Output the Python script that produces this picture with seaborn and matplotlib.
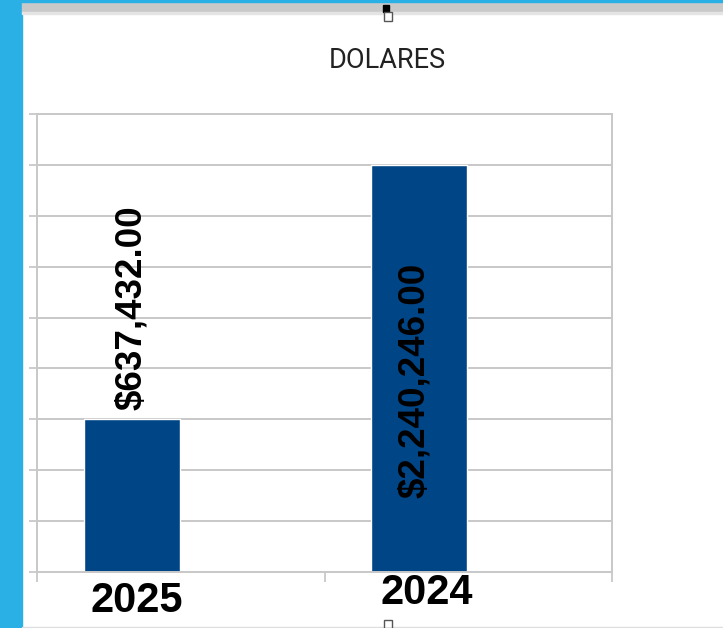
import pandas as pd
import matplotlib
matplotlib.use('Agg')
import matplotlib.pyplot as plt
from matplotlib.patches import Rectangle
import seaborn as sns

# Data (bar heights, labels as printed)
years = ['2025', '2024']
bar_heights = [3, 8]
value_labels = ['$637,432.00', '$2,240,246.00']
chart_title = 'DOLARES'

df = pd.DataFrame({'year': years, 'height': bar_heights})

sns.set_style('white')
plt.rcParams['font.family'] = ['Liberation Sans', 'DejaVu Sans']

W, H = 723, 628
fig = plt.figure(figsize=(W / 100, H / 100), dpi=100)
ax = fig.add_axes([37 / W, 56 / H, 575 / W, 458 / H])

bar_blue = '#004586'
grid_grey = '#c8c8c8'

sns.barplot(data=df, x='year', y='height', color=bar_blue, saturation=1,
            width=0.334, ax=ax, zorder=2)

ax.set_xlim(-0.33, 1.67)
ax.set_ylim(0, 9)
ax.set_xlabel('')
ax.set_ylabel('')

# grid + axes styling
ax.set_yticks(range(10))
ax.set_yticklabels([])
ax.yaxis.grid(True, color=grid_grey, linewidth=1.4)
ax.set_axisbelow(True)
for sp in ax.spines.values():
    sp.set_visible(True)
    sp.set_color(grid_grey)
    sp.set_linewidth(1.4)
ax.tick_params(axis='y', left=True, length=5.8, width=1.3, color=grid_grey)

ax.set_xticks([0, 1])
ax.set_xticklabels([])
ax.tick_params(axis='x', which='major', length=0)
ax.set_xticks([-0.33, 0.67, 1.67], minor=True)
ax.tick_params(axis='x', which='minor', bottom=True, length=7.2, width=1.3,
               color=grid_grey)

# year labels under the bars
year_offsets = [(3.6, -20.9), (5.0, -15.1)]
for i, (yr, off) in enumerate(zip(years, year_offsets)):
    ax.annotate(yr, xy=(i, 0), xycoords=('data', 'axes fraction'),
                xytext=off, textcoords='offset points',
                ha='center', va='center', fontsize=30, fontweight='bold',
                color='black', annotation_clip=False)

# value labels (rotated)
ax.annotate(value_labels[0], xy=(0, bar_heights[0]), xytext=(0, 7),
            textcoords='offset points', rotation=90, ha='center', va='bottom',
            fontsize=26.5, fontweight='bold', color='black')
ax.annotate(value_labels[1], xy=(1, bar_heights[1] * 0.47), xytext=(-3.6, 0),
            textcoords='offset points', rotation=90, ha='center', va='center',
            fontsize=26.5, fontweight='bold', color='black')

# title
fig.text(387.5 / W, 1 - 60 / H, chart_title, family=['Roboto', 'DejaVu Sans'],
         fontsize=19.5, color='#222222', ha='center', va='center')

# screenshot frame bits
cyan = '#2ab0e4'
fig.add_artist(Rectangle((0, 0), 22 / W, 1, transform=fig.transFigure,
                         color=cyan, zorder=0))
fig.add_artist(Rectangle((22 / W, 1 - 13 / H), 1, 11 / H,
                         transform=fig.transFigure, color='#c9c9c9', zorder=0))
fig.add_artist(Rectangle((22 / W, 1 - 14 / H), 1, 2 / H,
                         transform=fig.transFigure, color='#e4e4e4', zorder=0))
fig.add_artist(Rectangle((0, 1 - 2 / H), 1, 2 / H, transform=fig.transFigure,
                         color=cyan, zorder=1))
fig.add_artist(Rectangle((22 / W, 0), 1, 1.5 / H, transform=fig.transFigure,
                         color='#dddddd', zorder=0))
# selection handles
fig.add_artist(Rectangle((383 / W, 1 - 12 / H), 6 / W, 7 / H,
                         transform=fig.transFigure, color='black', zorder=3))
fig.add_artist(Rectangle((384 / W, 1 - 21 / H), 8 / W, 9 / H,
                         transform=fig.transFigure, facecolor='white',
                         edgecolor='#555555', linewidth=1, zorder=3))
fig.add_artist(Rectangle((384 / W, 0), 8 / W, 8 / H,
                         transform=fig.transFigure, facecolor='white',
                         edgecolor='#555555', linewidth=1, zorder=3))

fig.savefig('out.png', dpi=100)
